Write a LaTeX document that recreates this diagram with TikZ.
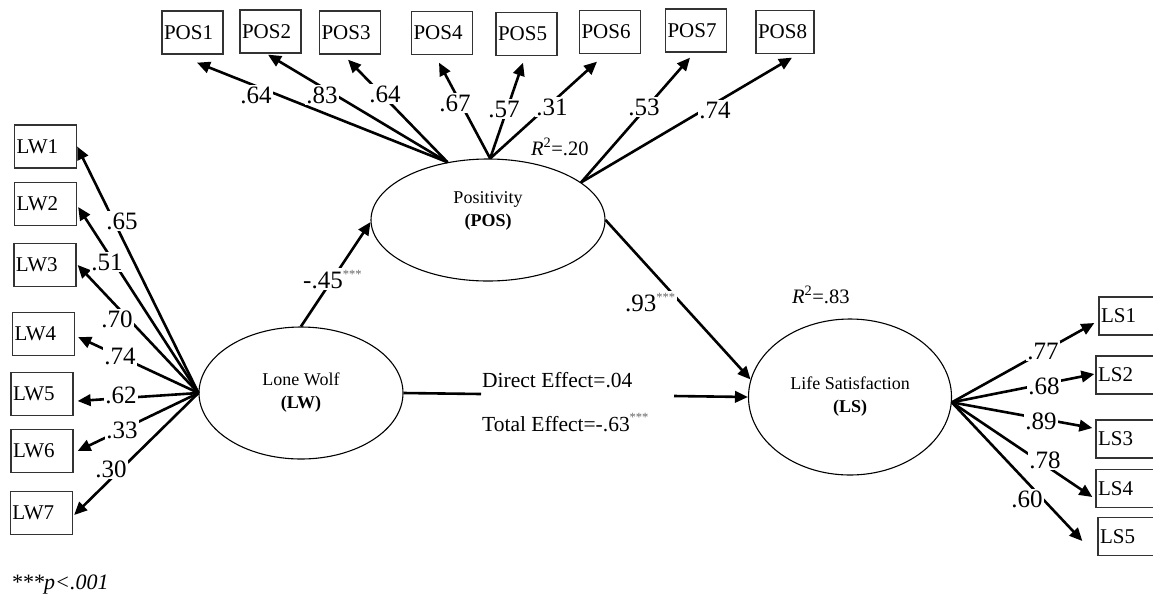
\documentclass[tikz,border=0pt]{standalone}
\usepackage{fontspec}
\setmainfont{Liberation Serif}
\usetikzlibrary{arrows.meta,calc,shapes.geometric}
\newcommand\mystars{{\color{black!60}\fontsize{12.5}{12.5}\selectfont\raisebox{10pt}{***}}}
\begin{document}
\begin{tikzpicture}[x=1pt,y=-1pt,
  obs/.style={draw=black!80, line width=1.3pt, rectangle, minimum height=43pt, text width=57pt, inner xsep=2pt, inner ysep=0pt, align=left, font=\fontsize{21}{22}\selectfont},
  lat/.style={draw=black, line width=1.1pt, ellipse, inner sep=0pt},
  lattext/.style={align=center, font=\fontsize{18}{23}\selectfont},
  pth/.style={line width=2.6pt, -{Triangle[length=13pt,width=11.5pt]}},
  ld/.style={fill=white, inner sep=1.5pt, font=\fontsize{25}{25}\selectfont},
  txt/.style={inner sep=0pt, font=\fontsize{21.5}{22}\selectfont},
]
\clip (0,0) rectangle (1153,598);
\fill[white] (0,0) rectangle (1153,598);

% latent variables
\node[lat, minimum width=234pt, minimum height=122pt] (POS) at (488,220) {};
\node[lattext] (POSt) at (488,211) {Positivity\\\textbf{(POS)}};
\node[lat, lattext, minimum width=204pt, minimum height=132pt] (LW) at (301,393) {Lone Wolf\\\textbf{(LW)}};
\node[lat, lattext, minimum width=203pt, minimum height=156pt] (LS) at (850,397) {Life Satisfaction\\\textbf{(LS)}};

% POS indicators
\node[obs] (POS1) at (192.5,32.5) {POS1};
\node[obs] (POS2) at (270.5,31.5) {POS2};
\node[obs] (POS3) at (350,32.5) {POS3};
\node[obs] (POS4) at (442,33) {POS4};
\node[obs] (POS5) at (526.5,34) {POS5};
\node[obs] (POS6) at (610,32) {POS6};
\node[obs] (POS7) at (696,30.5) {POS7};
\node[obs, text width=54pt] (POS8) at (785,32) {POS8};

% LW indicators
\node[obs, text width=58pt] (LW1) at (45.5,146.5) {LW1};
\node[obs, text width=58pt] (LW2) at (45.5,204) {LW2};
\node[obs, text width=58pt] (LW3) at (45,265) {LW3};
\node[obs, text width=58pt] (LW4) at (43.5,334) {LW4};
\node[obs, text width=58pt] (LW5) at (42,394) {LW5};
\node[obs, text width=58pt] (LW6) at (42,451) {LW6};
\node[obs, text width=58pt] (LW7) at (41.5,513) {LW7};

% LS indicators
\node[obs, text width=60pt, minimum height=38pt] (LS1) at (1131,316) {LS1};
\node[obs, text width=60pt, minimum height=38pt] (LS2) at (1128,375) {LS2};
\node[obs, text width=60pt, minimum height=38pt] (LS3) at (1128,439) {LS3};
\node[obs, text width=60pt, minimum height=38pt] (LS4) at (1128,488.5) {LS4};
\node[obs, text width=60pt, minimum height=38pt] (LS5) at (1130,536.5) {LS5};

% POS loadings
\draw[pth] (POS.125.5) -- ($(POS1.south)+(4.5,8)$);
\draw[pth] (POS.125.5) -- ($(POS2.south)+(-2.5,1)$);
\draw[pth] (POS.125.5) -- ($(POS3.south)+(-2,5)$);
\draw[pth] (POS.88) -- ($(POS4.south)+(-3,7.5)$);
\draw[pth] (POS.88) -- ($(POS5.south)+(-3.5,6.5)$);
\draw[pth] (POS.88) -- ($(POS6.south)+(-13,7.5)$);
\draw[pth] (POS.22.4) -- ($(POS7.south)+(-6,5)$);
\draw[pth] (POS.22.4) -- ($(POS8.south)+(7,3.5)$);

% LW loadings
\draw[pth] (LW.west) -- (LW1.east);
\draw[pth] (LW.west) -- ($(LW2.east)+(1,3)$);
\draw[pth] (LW.west) -- ($(LW3.east)+(1,0)$);
\draw[pth] (LW.west) -- ($(LW4.east)+(3,3)$);
\draw[pth] (LW.west) -- ($(LW5.east)+(4,7)$);
\draw[pth] (LW.west) -- ($(LW6.east)+(4,0)$);
\draw[pth] (LW.west) -- ($(LW7.east)+(1,2)$);

% LS loadings
\draw[pth] (LS.-3) -- ($(LS1.west)+(-4,7)$);
\draw[pth] (LS.-3) -- ($(LS2.west)+(-1,-1)$);
\draw[pth] (LS.-3) -- ($(LS3.west)+(-3,-11)$);
\draw[pth] (LS.-3) -- ($(LS4.west)+(-3,8.5)$);
\draw[pth] (LS.-3) -- ($(LS5.west)+(-15,4.5)$);

% structural paths
\draw[pth] (LW.north) -- (POS.181.5);
\draw[pth] (POS.east) -- (LS.170);
\coordinate (de1) at (481,394);
\coordinate (de2) at (674,396);
\draw[line width=2.6pt] (LW.east) -- (de1);
\draw[pth] (de2) -- (LS.west);

% loading labels
\node[ld] (lp1) at (256,95) {.64};
\node[ld] (lp2) at (322,95) {.83};
\node[ld] (lp3) at (385,94) {.64};
\node[ld] (lp4) at (455,103) {.67};
\node[ld] (lp5) at (504,109) {.57};
\node[ld] (lp6) at (552,107) {.31};
\node[ld] (lp7) at (644,107) {.53};
\node[ld] (lp8) at (715,110) {.74};

\node[ld] (lw1) at (122,221) {.65};
\node[ld] (lw2) at (107,262) {.51};
\node[ld] (lw3) at (117,319) {.70};
\node[ld] (lw4) at (120,356) {.74};
\node[ld] (lw5) at (121,395) {.62};
\node[ld] (lw6) at (122,430) {.33};
\node[ld] (lw7) at (111,469) {.30};

\node[ld] (ls1) at (1043,351) {.77};
\node[ld] (ls2) at (1044,386) {.68};
\node[ld] (ls3) at (1041,421) {.89};
\node[ld] (ls4) at (1045,460) {.78};
\node[ld] (ls5) at (1027,499) {.60};

% structural labels
\node[ld, anchor=base west, inner sep=2pt] (b1) at (301,288) {-.45\mystars};
\node[ld, anchor=base west, inner sep=2pt] (b2) at (623,311) {.93\mystars};
\node[txt, anchor=base west] (de) at (482,387) {Direct Effect=.04};
\node[txt, anchor=base west] (te) at (482,431) {Total Effect=-.63\mystars};

% R squared
\node[txt, anchor=base west, font=\fontsize{20.5}{21}\selectfont] (r1) at (531,155) {\textit{R}\textsuperscript{2}=.20};
\node[txt, anchor=base west, font=\fontsize{20.5}{21}\selectfont] (r2) at (792,303) {\textit{R}\textsuperscript{2}=.83};

% note
\node[txt, anchor=base west, font=\fontsize{22}{22}\selectfont\itshape] (note) at (11,589) {***p<.001};
\end{tikzpicture}
\end{document}
